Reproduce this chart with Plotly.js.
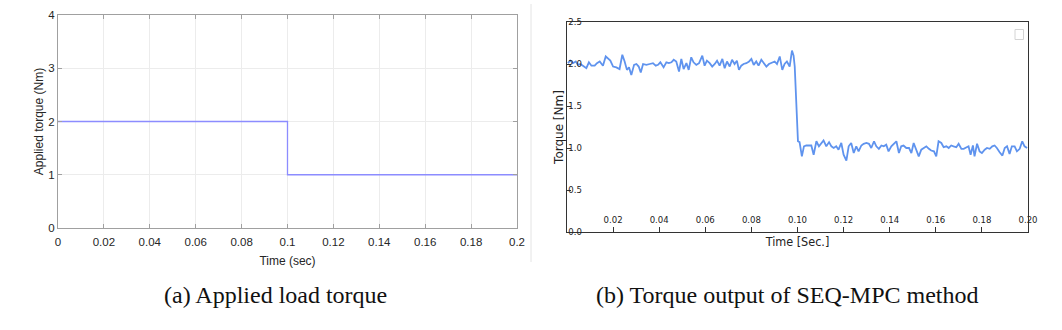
<!DOCTYPE html>
<html>
<head>
<meta charset="utf-8">
<script src="https://cdn.plot.ly/plotly-3.0.1.min.js"></script>
<style>
  html, body { margin: 0; padding: 0; background: #fff; }
  #fig { width: 1062px; height: 330px; }
</style>
</head>
<body>
<div id="fig"></div>
<script>
// ---------------------------------------------------
// Data
// ---------------------------------------------------

// (a) applied load torque, a single step at 0.1 s
const loadTime = [0, 0.1, 0.2];
const loadTorque = [2, 1, 1];

// (b) torque output of SEQ-MPC
const outTime = [
  0.0004, 0.0014, 0.0026, 0.0038, 0.0048, 0.0058, 0.0069, 0.0084, 0.0095, 0.0106,
  0.0120, 0.0130, 0.0142, 0.0156, 0.0168, 0.0178, 0.0188, 0.0200, 0.0214, 0.0228,
  0.0240, 0.0250, 0.0260, 0.0269, 0.0279, 0.0291, 0.0301, 0.0311, 0.0320, 0.0330,
  0.0344, 0.0359, 0.0373, 0.0385, 0.0395, 0.0405, 0.0419, 0.0431, 0.0442, 0.0453,
  0.0463, 0.0474, 0.0486, 0.0496, 0.0506, 0.0518, 0.0528, 0.0539, 0.0549, 0.0561,
  0.0573, 0.0587, 0.0597, 0.0607, 0.0619, 0.0630, 0.0641, 0.0651, 0.0662, 0.0674,
  0.0684, 0.0694, 0.0706, 0.0716, 0.0727, 0.0737, 0.0746, 0.0756, 0.0766, 0.0778,
  0.0790, 0.0800, 0.0810, 0.0821, 0.0831, 0.0843, 0.0853, 0.0865, 0.0876, 0.0888,
  0.0901, 0.0911, 0.0923, 0.0934, 0.0944, 0.0954, 0.0966, 0.0976, 0.0983, 0.0988,
  0.0995, 0.1002, 0.1009, 0.1019, 0.1028, 0.1038, 0.1050, 0.1060, 0.1070, 0.1082,
  0.1093, 0.1103, 0.1113, 0.1125, 0.1137, 0.1147, 0.1157, 0.1168, 0.1178, 0.1190,
  0.1200, 0.1212, 0.1222, 0.1233, 0.1244, 0.1255, 0.1265, 0.1277, 0.1287, 0.1299,
  0.1310, 0.1320, 0.1332, 0.1342, 0.1353, 0.1364, 0.1374, 0.1385, 0.1395, 0.1407,
  0.1417, 0.1429, 0.1440, 0.1450, 0.1460, 0.1472, 0.1484, 0.1494, 0.1504, 0.1515,
  0.1526, 0.1537, 0.1547, 0.1559, 0.1570, 0.1580, 0.1592, 0.1602, 0.1612, 0.1624,
  0.1634, 0.1646, 0.1656, 0.1667, 0.1677, 0.1689, 0.1699, 0.1711, 0.1721, 0.1732,
  0.1742, 0.1751, 0.1761, 0.1768, 0.1779, 0.1790, 0.1800, 0.1812, 0.1822, 0.1834,
  0.1845, 0.1855, 0.1865, 0.1877, 0.1889, 0.1899, 0.1909, 0.1920, 0.1930, 0.1942,
  0.1952, 0.1964, 0.1975, 0.1985, 0.1996
];
const outTorque = [
  2.01, 2.04, 2.01, 2.03, 1.99, 2.00, 1.98, 1.95, 2.02, 1.98,
  1.98, 2.01, 2.03, 1.98, 2.09, 2.06, 2.04, 1.97, 1.96, 1.94,
  2.11, 2.03, 1.93, 1.96, 1.87, 1.99, 2.00, 1.97, 1.90, 2.00,
  1.99, 2.00, 2.01, 1.98, 1.99, 2.02, 1.96, 2.02, 2.01, 2.02,
  2.05, 2.03, 1.91, 2.06, 1.94, 2.01, 1.93, 2.08, 2.02, 1.99,
  2.01, 2.10, 1.98, 2.04, 2.01, 1.97, 2.00, 2.04, 1.98, 2.06,
  1.95, 2.03, 1.97, 2.05, 2.00, 2.04, 1.93, 1.98, 2.00, 2.01,
  2.03, 2.06, 1.99, 2.03, 1.98, 2.05, 2.01, 1.97, 2.00, 2.01,
  2.03, 2.00, 2.09, 1.93, 2.00, 2.03, 1.97, 2.16, 2.10, 1.97,
  1.50, 1.08, 1.07, 0.90, 1.02, 1.03, 1.03, 1.03, 0.92, 1.08,
  1.02, 1.05, 1.09, 1.02, 1.07, 1.02, 1.00, 1.02, 0.98, 1.06,
  0.92, 0.85, 1.02, 1.06, 0.94, 1.02, 0.96, 1.03, 1.05, 1.06,
  1.05, 1.00, 1.08, 1.02, 0.99, 1.03, 1.02, 1.04, 0.96, 1.02,
  1.05, 1.08, 0.94, 1.02, 1.03, 1.00, 1.00, 0.94, 1.06, 0.98,
  0.90, 0.98, 1.00, 1.02, 0.99, 0.97, 0.96, 0.90, 1.08, 1.06,
  1.01, 1.02, 1.00, 1.03, 1.02, 1.01, 1.05, 0.99, 0.99, 1.01,
  1.02, 0.92, 1.03, 0.90, 1.05, 0.96, 0.94, 0.98, 1.00, 0.99,
  1.02, 1.03, 1.00, 0.95, 0.91, 1.00, 1.02, 0.93, 1.02, 1.02,
  0.96, 0.99, 1.08, 1.02, 1.00
];

// tick labels of panel (b)
const outTimeTicks = [0.02, 0.04, 0.06, 0.08, 0.10, 0.12, 0.14, 0.16, 0.18, 0.20];
const outTorqueTicks = [0.0, 0.5, 1.0, 1.5, 2.0, 2.5];

// captions under the panels
const captions = ["(a) Applied load torque", "(b) Torque output of SEQ-MPC method"];

// ---------------------------------------------------
// Plotting
// ---------------------------------------------------

const W = 1062;
const H = 330;
const px = (v) => v / W;
const py = (v) => 1 - v / H;

const matlabFont = { family: "Liberation Sans, Arial, sans-serif", size: 11.5, color: "#262626" };
const mplTick = { family: "Liberation Sans Narrow, DejaVu Sans Condensed, Liberation Sans, sans-serif", size: 9.5, color: "#222" };

const traceA = {
  x: loadTime,
  y: loadTorque,
  mode: "lines",
  line: { color: "#8c8cff", width: 1.3, shape: "hv" },
  xaxis: "x",
  yaxis: "y",
  hoverinfo: "skip",
};

const traceB = {
  x: outTime,
  y: outTorque,
  mode: "lines",
  line: { color: "#5f93ee", width: 1.8 },
  xaxis: "x2",
  yaxis: "y2",
  hoverinfo: "skip",
};

const layout = {
  width: W,
  height: H,
  showlegend: false,
  paper_bgcolor: "#fff",
  plot_bgcolor: "#fff",
  margin: { l: 0, r: 0, t: 0, b: 0 },
  xaxis: {
    domain: [px(58), px(517)],
    anchor: "y",
    range: [0, 0.2],
    dtick: 0.02,
    tick0: 0,
    showgrid: true,
    gridcolor: "#ececec",
    zeroline: false,
    showline: true,
    linecolor: "#a0a0a0",
    mirror: "ticks",
    ticks: "inside",
    ticklen: 4,
    tickcolor: "#a0a0a0",
    tickfont: matlabFont,
    ticklabelstandoff: 3,
    title: { text: "Time (sec)", font: { ...matlabFont, size: 12 }, standoff: 9 },
  },
  yaxis: {
    domain: [py(228), py(15)],
    anchor: "x",
    range: [0, 4],
    dtick: 1,
    showgrid: true,
    gridcolor: "#ececec",
    zeroline: false,
    showline: true,
    linecolor: "#a0a0a0",
    mirror: "ticks",
    ticks: "inside",
    ticklen: 4,
    tickcolor: "#a0a0a0",
    tickfont: matlabFont,
    title: { text: "Applied torque (Nm)", font: { ...matlabFont, size: 12 }, standoff: 2 },
  },
  xaxis2: {
    domain: [px(567), px(1028)],
    anchor: "y2",
    range: [0, 0.2],
    tickvals: outTimeTicks,
    tickformat: ".2f",
    showgrid: false,
    zeroline: false,
    showline: true,
    linecolor: "#333",
    linewidth: 1.2,
    mirror: true,
    ticks: "inside",
    ticklen: 5,
    tickcolor: "#333",
    tickfont: mplTick,
    ticklabelstandoff: -22,
    title: { text: "Time [Sec.]", font: { family: "DejaVu Sans Condensed, Liberation Sans, sans-serif", size: 12.5, color: "#222" }, standoff: 13 },
  },
  yaxis2: {
    domain: [py(232), py(22)],
    anchor: "x2",
    range: [0, 2.5],
    tickvals: outTorqueTicks,
    tickformat: ".1f",
    showgrid: false,
    zeroline: false,
    showline: true,
    linecolor: "#333",
    linewidth: 1.2,
    mirror: true,
    ticks: "inside",
    ticklen: 4,
    tickcolor: "#333",
    tickfont: mplTick,
    ticklabelstandoff: -18,
    title: { text: "Torque [Nm]", font: { family: "DejaVu Sans, sans-serif", size: 12, color: "#222" }, standoff: 2 },
  },
  shapes: [
    // faint frame edge on the right of panel (a)
    { type: "line", xref: "paper", yref: "paper", x0: px(531), x1: px(531), y0: py(262), y1: py(4),
      line: { color: "#e4e4e4", width: 1 } },
    // empty legend box of panel (b)
    { type: "rect", xref: "paper", yref: "paper", x0: px(1015), x1: px(1023.5), y0: py(39.5), y1: py(29.5),
      line: { color: "#d4d4d4", width: 1 } },
  ],
  annotations: [
    { text: captions[0], xref: "paper", yref: "paper", x: px(275), y: py(295), showarrow: false,
      xanchor: "center", yanchor: "middle", font: { family: "Liberation Serif, Times New Roman, serif", size: 24, color: "#111" } },
    { text: captions[1], xref: "paper", yref: "paper", x: px(787), y: py(295), showarrow: false,
      xanchor: "center", yanchor: "middle", font: { family: "Liberation Serif, Times New Roman, serif", size: 24, color: "#111" } },
  ],
};

const config = { staticPlot: true, displayModeBar: false };

Plotly.newPlot("fig", [traceA, traceB], layout, config);
</script>
</body>
</html>
